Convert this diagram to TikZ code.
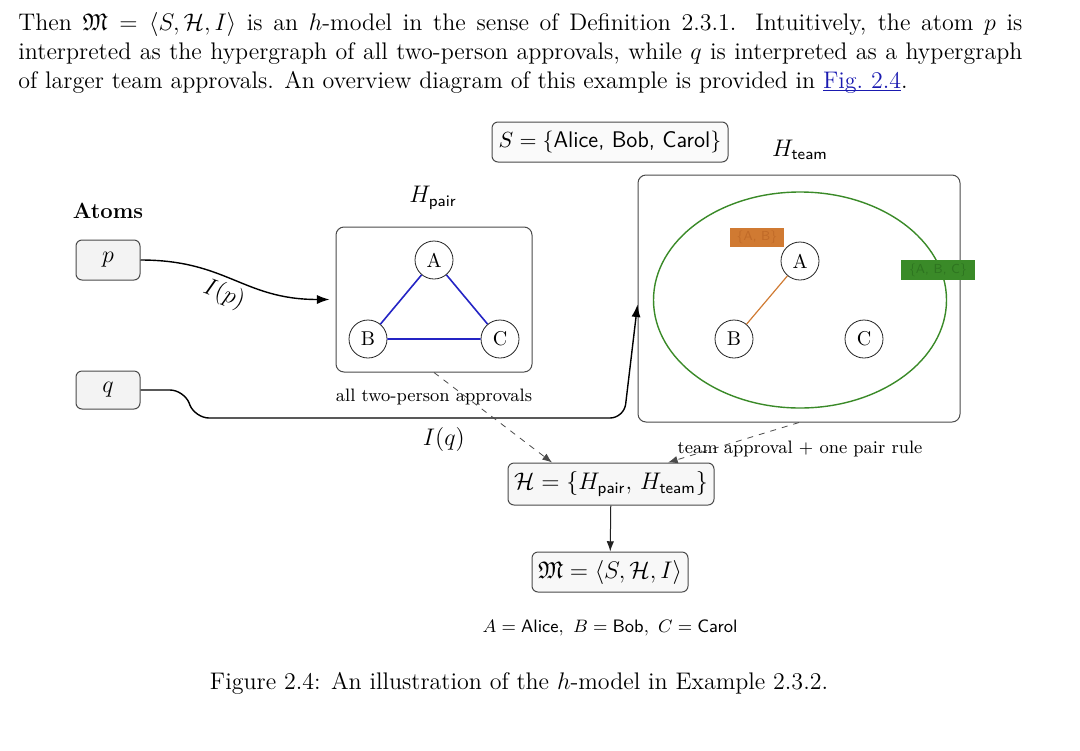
\documentclass[tikz,border=0pt]{standalone}
\usepackage{amsmath,amssymb}
\usetikzlibrary{arrows.meta}
\definecolor{hmInk}{HTML}{222222}
\definecolor{hmGray}{HTML}{4A4A4A}
\definecolor{hmPale}{HTML}{F3F3F3}
\definecolor{hmBlue}{HTML}{2424C4}
\definecolor{hmOrange}{HTML}{D07A32}
\definecolor{hmOrangeText}{HTML}{C06A28}
\definecolor{hmGreen}{HTML}{3A8A28}
\definecolor{hmGreenText}{HTML}{2E7420}
\definecolor{hmLink}{HTML}{1A1AB0}
\newcommand\hmRef[1]{\setbox0\hbox{#1}\rlap{\rule[-1.3pt]{\wd0}{0.45pt}}\box0}
\tikzset{
  hm body/.style={font=\fontsize{12}{14.5}\selectfont, text=black},
  hm box/.style={draw=hmGray, fill=hmPale, rounded corners=3pt, line width=0.5pt, inner sep=2pt, font=\fontsize{12}{14.5}\selectfont},
  hm panel/.style={draw=hmGray, rounded corners=4pt, line width=0.5pt, inner sep=0pt},
  hm agent/.style={circle, draw=hmInk, fill=white, line width=0.4pt, minimum size=19pt, inner sep=0pt, font=\fontsize{10}{12}\selectfont},
  hm note/.style={font=\fontsize{9}{11}\selectfont},
  hm tag/.style={font=\sffamily\fontsize{6.5}{8}\selectfont, inner sep=0pt},
  hm wire/.style={draw=black, line width=0.7pt, -{Latex[length=2.2mm,width=1.6mm]}},
  hm dash/.style={draw=hmGray, line width=0.4pt, dashed, -{Latex[length=1.7mm,width=1.3mm]}},
}
\begin{document}
\begin{tikzpicture}[x=0.5pt,y=-0.5pt]
\useasboundingbox (0,0) rectangle (1080,750);
% text above the figure
\node[hm body, anchor=north west, text width=502pt, align=justify, inner sep=0pt] (para) at (18,12) {Then $\mathfrak{M}=\langle S,\mathcal{H},I\rangle$ is an $h$-model in the sense of Definition 2.3.1. Intuitively, the atom $p$ is\linebreak interpreted as the hypergraph of all two-person approvals, while $q$ is interpreted as a hypergraph\linebreak of larger team approvals. An overview diagram of this example is provided in \textcolor{hmLink}{\hmRef{Fig.~2.4}}.};

% atoms
\node[font=\bfseries\fontsize{11}{13}\selectfont] (atoms) at (108,211) {Atoms};
\node[hm box, minimum width=32pt, minimum height=20pt] (p) at (108,260) {$p$};
\node[hm box, minimum width=32pt, minimum height=19pt] (q) at (108,390) {$q$};
\node[hm box, fill=hmPale!40, minimum width=118pt, minimum height=20pt, font=\fontsize{11.3}{13.5}\selectfont] (S) at (610,142) {$S=\{\textsf{Alice, Bob, Carol}\}$};

% pair hypergraph
\node[hm panel, minimum width=98pt, minimum height=72.5pt] (pairbox) at (434,299.5) {};
\node[hm body] (pairlbl) at (433,198) {$H_{\textsf{pair}}$};
\node[hm agent] (pa) at (434,260) {A};
\node[hm agent] (pb) at (368,339) {B};
\node[hm agent] (pc) at (500,339) {C};
\draw[hmBlue, line width=0.8pt] (pa)--(pb) (pa)--(pc) (pb)--(pc);
\node[hm note] (pairnote) at (434,397) {all two-person approvals};

% team hypergraph
\node[hm panel, minimum width=161pt, minimum height=123.5pt] (teambox) at (799,298.5) {};
\node[hm body] (teamlbl) at (800,150) {$H_{\textsf{team}}$};
\draw[hmGreen, line width=0.7pt] (800,300) ellipse [x radius=73.25pt, y radius=54pt];
\node[hm agent] (ta) at (800,261) {A};
\node[hm agent] (tb) at (734,339) {B};
\node[hm agent] (tc) at (864,339) {C};
\draw[hmOrange, line width=0.6pt] (ta)--(tb);
\node[hm tag, fill=hmOrange, text=hmOrangeText, minimum width=27pt, minimum height=9.5pt] (tagab) at (757,237.5) {\{A, B\}};
\node[hm tag, fill=hmGreen, text=hmGreenText, minimum width=37pt, minimum height=10pt] (tagabc) at (938,270) {\{A, B, C\}};

% interpretations
\draw[hm wire] (p.east) to[out=0,in=180,looseness=1.15] node[hm body, sloped, below, pos=0.47, inner sep=2.5pt] {$I(p)$} ([xshift=-3pt]pairbox.west);
\draw[hm wire, rounded corners=7pt] (q.east) -- (184,390) -- (195,418) -- node[hm body, below=1pt, pos=0.58] {$I(q)$} (624,418) -- ([yshift=-3pt]teambox.west);

% collected hypergraphs
\node[hm box, fill=hmPale!70, minimum width=103pt, minimum height=21pt] (hset) at (611,484) {$\mathcal{H}=\{H_{\textsf{pair}},\,H_{\textsf{team}}\}$};
\node[hm box, fill=hmPale!60, minimum width=78pt, minimum height=20pt] (model) at (610,572) {$\mathfrak{M}=\langle S,\mathcal{H},I\rangle$};
\draw[hm dash] (pairbox.south) -- ([xshift=-29.5pt]hset.north);
\draw[hm dash] (teambox.south) -- ([xshift=28.5pt]hset.north);
\node[hm note] (teamnote) at (800,449) {team approval $+$ one pair rule};
\draw[draw=hmInk, line width=0.5pt, -{Latex[length=1.8mm,width=1.3mm]}] (hset) -- (model);
\node[hm note] (legend) at (610,628) {$A=\textsf{Alice},\ B=\textsf{Bob},\ C=\textsf{Carol}$};

% caption
\node[hm body, anchor=base] (caption) at (519,689) {Figure 2.4: An illustration of the $h$-model in Example 2.3.2.};
\end{tikzpicture}
\end{document}
